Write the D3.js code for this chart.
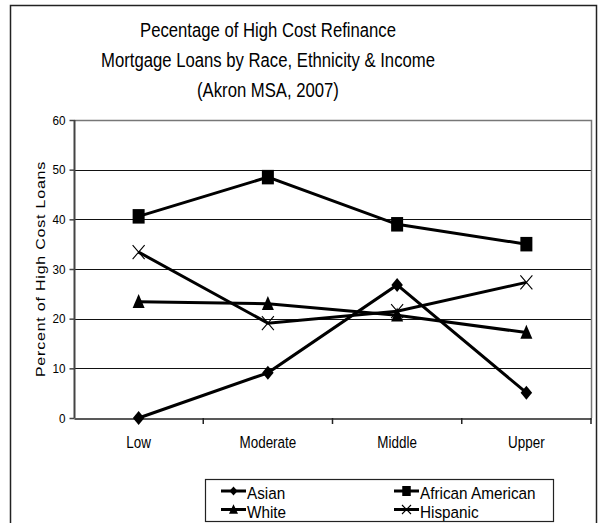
<!DOCTYPE html>
<html><head><meta charset="utf-8">
<script src="https://cdn.jsdelivr.net/npm/d3@7/dist/d3.min.js"></script>
<style>html,body{margin:0;padding:0;background:#fff;}svg{display:block;font-family:"Liberation Sans",Arial,sans-serif;}</style>
</head><body>
<script>
const categories = ["Low", "Moderate", "Middle", "Upper"];
const seriesNames = ["Asian", "African American", "White", "Hispanic"];
const asian = [0, 9.1, 26.8, 5.1];
const africanAmerican = [40.6, 48.5, 39.0, 35.0];
const white = [23.4, 23.0, 20.7, 17.2];
const hispanic = [33.4, 19.1, 21.5, 27.3];
const yTicks = [0, 10, 20, 30, 40, 50, 60];
const titleLines = ["Pecentage of High Cost Refinance", "Mortgage Loans by Race, Ethnicity & Income", "(Akron MSA, 2007)"];
const yLabel = "Percent of High Cost Loans";

const series = [
  {name: seriesNames[0], values: asian, marker: "diamond"},
  {name: seriesNames[1], values: africanAmerican, marker: "square"},
  {name: seriesNames[2], values: white, marker: "triangle"},
  {name: seriesNames[3], values: hispanic, marker: "cross"}
];

const W = 598, H = 523;
const svg = d3.select("body").append("svg").attr("width", W).attr("height", H);

// outer frame
svg.append("rect").attr("x", 10.5).attr("y", 5.5).attr("width", 586).attr("height", 540)
  .attr("fill", "none").attr("stroke", "#222").attr("stroke-width", 1.5);

const x = d3.scaleBand().domain(categories).range([74, 591]);
const y = d3.scaleLinear().domain([0, 60]).range([418, 120]);

function stext(g, str, tx, ty, size, sx, anchor) {
  return g.append("text").attr("transform", `translate(${tx},${ty}) scale(${sx},1)`)
    .attr("text-anchor", anchor || "middle").attr("font-size", size).attr("fill", "#000").text(str);
}

// title
titleLines.forEach((t, i) => stext(svg, t, 268, 37 + i * 30, 20, 0.835));

// gridlines
svg.append("g").selectAll("line").data(yTicks.filter(d => d > 0 && d < 60)).join("line")
  .attr("x1", 74).attr("x2", 591).attr("y1", d => Math.round(y(d)) + 0.5).attr("y2", d => Math.round(y(d)) + 0.5)
  .attr("stroke", "#111").attr("stroke-width", 1);

// plot border top/right
svg.append("path").attr("d", `M74,${y(60) + 0.5}H591.5V${y(0)}`).attr("fill", "none").attr("stroke", "#777").attr("stroke-width", 1.5);

// y axis
const yAxis = svg.append("g").attr("transform", "translate(74.5,0)")
  .call(d3.axisLeft(y).tickValues(yTicks).tickSize(5).tickPadding(0).tickFormat(d3.format("d")));
yAxis.attr("font-size", null).attr("font-family", null);
yAxis.select(".domain").attr("stroke", "#444").attr("stroke-width", 2).attr("d", `M0,${y(60)}V${y(0)}`);
yAxis.selectAll(".tick line").attr("stroke", "#444").attr("stroke-width", 1.5);
yAxis.selectAll(".tick text").attr("x", null).attr("font-size", 13).attr("fill", "#000")
  .attr("transform", "translate(-9,0) scale(0.9,1)");

// x axis
const xAxis = svg.append("g").attr("transform", `translate(0,${y(0) + 0.5})`)
  .call(d3.axisBottom(x).tickSize(0).tickPadding(17.7));
xAxis.attr("font-size", null).attr("font-family", null);
xAxis.select(".domain").attr("stroke", "#222").attr("stroke-width", 1.5);
xAxis.selectAll(".tick text").attr("font-size", 17).attr("fill", "#000").attr("transform", "scale(0.79,1)");
// category boundary ticks
const bounds = categories.slice(1).map(c => x(c)).concat([x.range()[1]]);
svg.append("g").selectAll("line").data(bounds).join("line")
  .attr("x1", d => d).attr("x2", d => d)
  .attr("y1", y(0)).attr("y2", y(0) + 6).attr("stroke", "#222").attr("stroke-width", 1.5);

// y label
svg.append("text").attr("transform", `translate(45,269) rotate(-90) scale(1,0.8)`).attr("text-anchor", "middle")
  .attr("font-size", 16).attr("letter-spacing", 0.8).attr("fill", "#000").text(yLabel);

// markers (w = width, h = height)
function drawMarker(g, type, cx, cy, w, h) {
  const a = w / 2, b = h / 2;
  if (type === "diamond") {
    g.append("path").attr("d", `M${cx},${cy - b}L${cx + a},${cy}L${cx},${cy + b}L${cx - a},${cy}Z`).attr("fill", "#000");
  } else if (type === "square") {
    g.append("rect").attr("x", cx - a).attr("y", cy - b).attr("width", w).attr("height", h).attr("fill", "#000");
  } else if (type === "triangle") {
    g.append("path").attr("d", `M${cx},${cy - b * 1.1}L${cx + a},${cy + b * 0.9}L${cx - a},${cy + b * 0.9}Z`).attr("fill", "#000");
  } else if (type === "cross") {
    g.append("path").attr("d", `M${cx - a},${cy - b}L${cx + a},${cy + b}M${cx - a},${cy + b}L${cx + a},${cy - b}`)
      .attr("stroke", "#000").attr("stroke-width", 1.1).attr("fill", "none");
  }
}
const mSize = {diamond: [11.5, 14], square: [12, 14.5], triangle: [12, 14], cross: [12, 14]};
const lSize = {diamond: [8, 9], square: [8.5, 10], triangle: [9, 9.5], cross: [9, 9]};

const line = d3.line().x((d, i) => x(categories[i]) + x.bandwidth() / 2).y(d => y(d));
const gLines = svg.append("g");
series.forEach(s => {
  gLines.append("path").attr("d", line(s.values)).attr("fill", "none").attr("stroke", "#000").attr("stroke-width", 3);
});
series.forEach(s => {
  s.values.forEach((v, i) => drawMarker(gLines, s.marker, x(categories[i]) + x.bandwidth() / 2, y(v), mSize[s.marker][0], mSize[s.marker][1]));
});

// legend
const lg = svg.append("g");
lg.append("rect").attr("x", 205.5).attr("y", 479.5).attr("width", 348).attr("height", 42).attr("fill", "#fff").attr("stroke", "#222").attr("stroke-width", 1.2);
const legendPos = [
  {lx: 221, ly: 491},
  {lx: 394, ly: 491},
  {lx: 221, ly: 509.5},
  {lx: 394, ly: 509.5}
];
series.forEach((s, i) => {
  const p = legendPos[i];
  lg.append("line").attr("x1", p.lx).attr("x2", p.lx + 25).attr("y1", p.ly).attr("y2", p.ly).attr("stroke", "#000").attr("stroke-width", 3);
  drawMarker(lg, s.marker, p.lx + 12.5, p.ly, lSize[s.marker][0], lSize[s.marker][1]);
  stext(lg, s.name, p.lx + 26, p.ly + 8, 17, 0.9, "start");
});
</script>
</body></html>
